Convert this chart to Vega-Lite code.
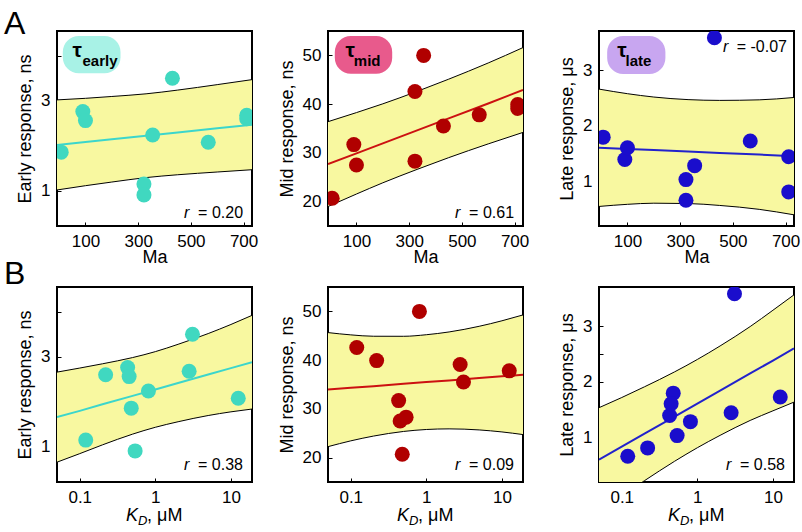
{
"$schema": "https://vega.github.io/schema/vega-lite/v6.json",
"padding": {"left": 3, "top": 6, "right": 0, "bottom": 0},
"background": "white",
"columns": 3,
"spacing": {"row": 61, "column": 76},
"bounds": "flush",
"datasets": {
"pts": [
{"Ma": 8, "KD": 0.48, "early": 1.86, "mid": 20.7, "late": 1.80},
{"Ma": 355, "KD": 0.81, "early": 2.24, "mid": 50.0, "late": 1.29},
{"Ma": 430, "KD": 3.1, "early": 3.50, "mid": 35.5, "late": 3.58},
{"Ma": 322, "KD": 0.12, "early": 1.15, "mid": 42.6, "late": 0.67},
{"Ma": 322, "KD": 0.54, "early": 0.91, "mid": 28.3, "late": 1.04},
{"Ma": 712, "KD": 0.22, "early": 2.60, "mid": 39.9, "late": 0.82},
{"Ma": 712, "KD": 2.8, "early": 2.68, "mid": 39.1, "late": 1.45},
{"Ma": 90, "KD": 0.43, "early": 2.76, "mid": 31.7, "late": 1.40},
{"Ma": 100, "KD": 0.45, "early": 2.56, "mid": 27.5, "late": 1.61},
{"Ma": 566, "KD": 12.5, "early": 2.08, "mid": 37.8, "late": 1.73}
],
"band": [
{"panel": "A1", "x": -8, "lo": 1.02, "hi": 3.02, "fit": 2.02},
{"panel": "A1", "x": 100, "lo": 1.115, "hi": 3.055, "fit": 2.085},
{"panel": "A1", "x": 200, "lo": 1.196, "hi": 3.096, "fit": 2.146},
{"panel": "A1", "x": 330, "lo": 1.295, "hi": 3.155, "fit": 2.225},
{"panel": "A1", "x": 450, "lo": 1.358, "hi": 3.238, "fit": 2.298},
{"panel": "A1", "x": 600, "lo": 1.419, "hi": 3.359, "fit": 2.389},
{"panel": "A1", "x": 732, "lo": 1.47, "hi": 3.47, "fit": 2.47},
{"panel": "A2", "x": -8, "lo": 19.0, "hi": 36.4, "fit": 27.7},
{"panel": "A2", "x": 100, "lo": 21.56, "hi": 38.26, "fit": 29.91},
{"panel": "A2", "x": 200, "lo": 23.86, "hi": 40.06, "fit": 31.96},
{"panel": "A2", "x": 330, "lo": 26.61, "hi": 42.61, "fit": 34.61},
{"panel": "A2", "x": 450, "lo": 29.02, "hi": 45.12, "fit": 37.07},
{"panel": "A2", "x": 600, "lo": 31.84, "hi": 48.44, "fit": 40.14},
{"panel": "A2", "x": 732, "lo": 34.2, "hi": 51.6, "fit": 42.9},
{"panel": "A3", "x": -8, "lo": 0.56, "hi": 2.66, "fit": 1.61},
{"panel": "A3", "x": 100, "lo": 0.598, "hi": 2.578, "fit": 1.588},
{"panel": "A3", "x": 200, "lo": 0.618, "hi": 2.518, "fit": 1.568},
{"panel": "A3", "x": 330, "lo": 0.612, "hi": 2.472, "fit": 1.542},
{"panel": "A3", "x": 450, "lo": 0.578, "hi": 2.458, "fit": 1.518},
{"panel": "A3", "x": 600, "lo": 0.508, "hi": 2.468, "fit": 1.488},
{"panel": "A3", "x": 732, "lo": 0.41, "hi": 2.51, "fit": 1.46},
{"panel": "B1", "x": 0.05, "lo": 0.66, "hi": 2.66, "fit": 1.66},
{"panel": "B1", "x": 0.1, "lo": 0.85, "hi": 2.75, "fit": 1.80},
{"panel": "B1", "x": 0.2, "lo": 1.045, "hi": 2.845, "fit": 1.945},
{"panel": "B1", "x": 0.5, "lo": 1.283, "hi": 2.983, "fit": 2.133},
{"panel": "B1", "x": 1, "lo": 1.435, "hi": 3.115, "fit": 2.275},
{"panel": "B1", "x": 2, "lo": 1.558, "hi": 3.278, "fit": 2.418},
{"panel": "B1", "x": 5, "lo": 1.696, "hi": 3.516, "fit": 2.606},
{"panel": "B1", "x": 10, "lo": 1.778, "hi": 3.718, "fit": 2.748},
{"panel": "B1", "x": 19, "lo": 1.84, "hi": 3.92, "fit": 2.88},
{"panel": "B2", "x": 0.05, "lo": 22.25, "hi": 45.65, "fit": 33.95},
{"panel": "B2", "x": 0.1, "lo": 23.44, "hi": 45.18, "fit": 34.31},
{"panel": "B2", "x": 0.2, "lo": 24.42, "hi": 44.90, "fit": 34.66},
{"panel": "B2", "x": 0.5, "lo": 25.37, "hi": 44.89, "fit": 35.13},
{"panel": "B2", "x": 1, "lo": 25.77, "hi": 45.21, "fit": 35.49},
{"panel": "B2", "x": 2, "lo": 25.90, "hi": 45.78, "fit": 35.84},
{"panel": "B2", "x": 5, "lo": 25.68, "hi": 46.94, "fit": 36.31},
{"panel": "B2", "x": 10, "lo": 25.27, "hi": 48.07, "fit": 36.67},
{"panel": "B2", "x": 19, "lo": 24.73, "hi": 49.27, "fit": 37.0},
{"panel": "B3", "x": 0.05, "lo": -0.32, "hi": 1.54, "fit": 0.61},
{"panel": "B3", "x": 0.1, "lo": -0.038, "hi": 1.722, "fit": 0.842},
{"panel": "B3", "x": 0.2, "lo": 0.234, "hi": 1.914, "fit": 1.074},
{"panel": "B3", "x": 0.5, "lo": 0.581, "hi": 2.181, "fit": 1.381},
{"panel": "B3", "x": 1, "lo": 0.823, "hi": 2.403, "fit": 1.613},
{"panel": "B3", "x": 2, "lo": 1.045, "hi": 2.645, "fit": 1.845},
{"panel": "B3", "x": 5, "lo": 1.312, "hi": 2.992, "fit": 2.152},
{"panel": "B3", "x": 10, "lo": 1.484, "hi": 3.284, "fit": 2.384},
{"panel": "B3", "x": 19, "lo": 1.64, "hi": 3.56, "fit": 2.60}
]
},
"concat": [
{
"width": 195, "height": 195,
"layer": [
{"data": {"name": "band"}, "transform": [{"filter": "datum.panel == 'A1'"}],
 "mark": {"type": "area", "color": "#f8f8a0", "opacity": 1, "clip": true, "interpolate": "monotone"},
 "encoding": {
  "x": {"field": "x", "type": "quantitative", "scale": {"domain": [-8, 732], "nice": false, "zero": false}, "axis": {"title": "Ma", "values": [100, 200, 300, 400, 500, 600, 700], "labelOverlap": false, "labelExpr": "datum.value % 200 == 100 ? datum.label : ''"}},
  "y": {"field": "lo", "type": "quantitative", "scale": {"domain": [0.22, 4.55], "nice": false, "zero": false}, "axis": {"title": "Early response, ns", "values": [1, 2, 3, 4], "labelOverlap": false, "labelExpr": "datum.value == 1 ? '1' : datum.value == 3 ? '3' : ''"}},
  "y2": {"field": "hi"}}},
{"data": {"name": "band"}, "transform": [{"filter": "datum.panel == 'A1'"}],
 "mark": {"type": "line", "color": "black", "strokeWidth": 1, "clip": true, "interpolate": "monotone"},
 "encoding": {"x": {"field": "x", "type": "quantitative"}, "y": {"field": "hi", "type": "quantitative"}}},
{"data": {"name": "band"}, "transform": [{"filter": "datum.panel == 'A1'"}],
 "mark": {"type": "line", "color": "black", "strokeWidth": 1, "clip": true, "interpolate": "monotone"},
 "encoding": {"x": {"field": "x", "type": "quantitative"}, "y": {"field": "lo", "type": "quantitative"}}},
{"data": {"name": "band"}, "transform": [{"filter": "datum.panel == 'A1'"}],
 "mark": {"type": "line", "color": "#3cd6cc", "strokeWidth": 2, "clip": true},
 "encoding": {"x": {"field": "x", "type": "quantitative"}, "y": {"field": "fit", "type": "quantitative"}}},
{"data": {"name": "pts"},
 "mark": {"type": "circle", "size": 225, "opacity": 1, "color": "#40d8c0", "clip": true},
 "encoding": {"x": {"field": "Ma", "type": "quantitative"}, "y": {"field": "early", "type": "quantitative"}}},
{"data": {"values": [{}]},
 "mark": {"type": "rect", "color": "#a8f2e6", "cornerRadius": 16},
 "encoding": {"x": {"datum": 14}, "x2": {"datum": 233}, "y": {"datum": 4.44}, "y2": {"datum": 3.61}}},
{"data": {"values": [{}]},
 "mark": {"type": "text", "text": "τ", "fontSize": 21, "fontWeight": "bold", "align": "left", "baseline": "alphabetic", "color": "black"},
 "encoding": {"x": {"datum": 50.8}, "y": {"datum": 3.973}}},
{"data": {"values": [{}]},
 "mark": {"type": "text", "text": "early", "fontSize": 15, "fontWeight": "bold", "align": "left", "baseline": "alphabetic", "color": "black"},
 "encoding": {"x": {"datum": 88.8}, "y": {"datum": 3.773}}},
{"data": {"values": [{}]},
 "mark": {"type": "text", "text": "r", "fontSize": 16, "fontStyle": "italic", "align": "left", "baseline": "alphabetic", "color": "black"},
 "encoding": {"x": {"datum": 474}, "y": {"datum": 0.40}}},
{"data": {"values": [{}]},
 "mark": {"type": "text", "text": "= 0.20", "fontSize": 16, "align": "right", "baseline": "alphabetic", "color": "black"},
 "encoding": {"x": {"datum": 698}, "y": {"datum": 0.40}}},
{"data": {"values": [{}]},
 "mark": {"type": "text", "text": "A", "fontSize": 32, "align": "left", "baseline": "alphabetic", "color": "black"},
 "encoding": {"x": {"datum": -209}, "y": {"datum": 4.49}}}
]
},
{
"width": 195, "height": 195,
"layer": [
{"data": {"name": "band"}, "transform": [{"filter": "datum.panel == 'A2'"}],
 "mark": {"type": "area", "color": "#f8f8a0", "opacity": 1, "clip": true, "interpolate": "monotone"},
 "encoding": {
  "x": {"field": "x", "type": "quantitative", "scale": {"domain": [-8, 732], "nice": false, "zero": false}, "axis": {"title": "Ma", "values": [100, 200, 300, 400, 500, 600, 700], "labelOverlap": false, "labelExpr": "datum.value % 200 == 100 ? datum.label : ''"}},
  "y": {"field": "lo", "type": "quantitative", "scale": {"domain": [15, 55], "nice": false, "zero": false}, "axis": {"title": "Mid response, ns", "values": [20, 25, 30, 35, 40, 45, 50], "labelOverlap": false, "labelExpr": "datum.value % 10 == 0 ? datum.label : ''"}},
  "y2": {"field": "hi"}}},
{"data": {"name": "band"}, "transform": [{"filter": "datum.panel == 'A2'"}],
 "mark": {"type": "line", "color": "black", "strokeWidth": 1, "clip": true, "interpolate": "monotone"},
 "encoding": {"x": {"field": "x", "type": "quantitative"}, "y": {"field": "hi", "type": "quantitative"}}},
{"data": {"name": "band"}, "transform": [{"filter": "datum.panel == 'A2'"}],
 "mark": {"type": "line", "color": "black", "strokeWidth": 1, "clip": true, "interpolate": "monotone"},
 "encoding": {"x": {"field": "x", "type": "quantitative"}, "y": {"field": "lo", "type": "quantitative"}}},
{"data": {"name": "band"}, "transform": [{"filter": "datum.panel == 'A2'"}],
 "mark": {"type": "line", "color": "#cc1111", "strokeWidth": 2, "clip": true},
 "encoding": {"x": {"field": "x", "type": "quantitative"}, "y": {"field": "fit", "type": "quantitative"}}},
{"data": {"name": "pts"},
 "mark": {"type": "circle", "size": 225, "opacity": 1, "color": "#b00000", "clip": true},
 "encoding": {"x": {"field": "Ma", "type": "quantitative"}, "y": {"field": "mid", "type": "quantitative"}}},
{"data": {"values": [{}]},
 "mark": {"type": "rect", "color": "#e85a8c", "cornerRadius": 16},
 "encoding": {"x": {"datum": 17.8}, "x2": {"datum": 235.6}, "y": {"datum": 53.97}, "y2": {"datum": 46.24}}},
{"data": {"values": [{}]},
 "mark": {"type": "text", "text": "τ", "fontSize": 21, "fontWeight": "bold", "align": "left", "baseline": "alphabetic", "color": "black"},
 "encoding": {"x": {"datum": 58.4}, "y": {"datum": 49.67}}},
{"data": {"values": [{}]},
 "mark": {"type": "text", "text": "mid", "fontSize": 15, "fontWeight": "bold", "align": "left", "baseline": "alphabetic", "color": "black"},
 "encoding": {"x": {"datum": 89.9}, "y": {"datum": 47.82}}},
{"data": {"values": [{}]},
 "mark": {"type": "text", "text": "r", "fontSize": 16, "fontStyle": "italic", "align": "left", "baseline": "alphabetic", "color": "black"},
 "encoding": {"x": {"datum": 474}, "y": {"datum": 16.64}}},
{"data": {"values": [{}]},
 "mark": {"type": "text", "text": "= 0.61", "fontSize": 16, "align": "right", "baseline": "alphabetic", "color": "black"},
 "encoding": {"x": {"datum": 698}, "y": {"datum": 16.64}}}
]
},
{
"width": 195, "height": 195,
"layer": [
{"data": {"name": "band"}, "transform": [{"filter": "datum.panel == 'A3'"}],
 "mark": {"type": "area", "color": "#f8f8a0", "opacity": 1, "clip": true, "interpolate": "monotone"},
 "encoding": {
  "x": {"field": "x", "type": "quantitative", "scale": {"domain": [-8, 732], "nice": false, "zero": false}, "axis": {"title": "Ma", "values": [100, 200, 300, 400, 500, 600, 700], "labelOverlap": false, "labelExpr": "datum.value % 200 == 100 ? datum.label : ''"}},
  "y": {"field": "lo", "type": "quantitative", "scale": {"domain": [0.21, 3.7], "nice": false, "zero": false}, "axis": {"title": "Late response, μs", "values": [1, 1.5, 2, 2.5, 3], "labelOverlap": false, "labelExpr": "datum.value == 1 ? '1' : datum.value == 2 ? '2' : datum.value == 3 ? '3' : ''"}},
  "y2": {"field": "hi"}}},
{"data": {"name": "band"}, "transform": [{"filter": "datum.panel == 'A3'"}],
 "mark": {"type": "line", "color": "black", "strokeWidth": 1, "clip": true, "interpolate": "monotone"},
 "encoding": {"x": {"field": "x", "type": "quantitative"}, "y": {"field": "hi", "type": "quantitative"}}},
{"data": {"name": "band"}, "transform": [{"filter": "datum.panel == 'A3'"}],
 "mark": {"type": "line", "color": "black", "strokeWidth": 1, "clip": true, "interpolate": "monotone"},
 "encoding": {"x": {"field": "x", "type": "quantitative"}, "y": {"field": "lo", "type": "quantitative"}}},
{"data": {"name": "band"}, "transform": [{"filter": "datum.panel == 'A3'"}],
 "mark": {"type": "line", "color": "#2222cc", "strokeWidth": 2, "clip": true},
 "encoding": {"x": {"field": "x", "type": "quantitative"}, "y": {"field": "fit", "type": "quantitative"}}},
{"data": {"name": "pts"},
 "mark": {"type": "circle", "size": 225, "opacity": 1, "color": "#1a0dcc", "clip": true},
 "encoding": {"x": {"field": "Ma", "type": "quantitative"}, "y": {"field": "late", "type": "quantitative"}}},
{"data": {"values": [{}]},
 "mark": {"type": "rect", "color": "#c8a6f0", "cornerRadius": 16},
 "encoding": {"x": {"datum": 23}, "x2": {"datum": 244}, "y": {"datum": 3.61}, "y2": {"datum": 2.93}}},
{"data": {"values": [{}]},
 "mark": {"type": "text", "text": "τ", "fontSize": 21, "fontWeight": "bold", "align": "left", "baseline": "alphabetic", "color": "black"},
 "encoding": {"x": {"datum": 61}, "y": {"datum": 3.235}}},
{"data": {"values": [{}]},
 "mark": {"type": "text", "text": "late", "fontSize": 15, "fontWeight": "bold", "align": "left", "baseline": "alphabetic", "color": "black"},
 "encoding": {"x": {"datum": 92.6}, "y": {"datum": 3.07}}},
{"data": {"values": [{}]},
 "mark": {"type": "text", "text": "r", "fontSize": 16, "fontStyle": "italic", "align": "left", "baseline": "alphabetic", "color": "black"},
 "encoding": {"x": {"datum": 462.6}, "y": {"datum": 3.324}}},
{"data": {"values": [{}]},
 "mark": {"type": "text", "text": "= -0.07", "fontSize": 16, "align": "right", "baseline": "alphabetic", "color": "black"},
 "encoding": {"x": {"datum": 705.4}, "y": {"datum": 3.324}}}
]
},
{
"width": 195, "height": 195,
"layer": [
{"data": {"name": "band"}, "transform": [{"filter": "datum.panel == 'B1'"}],
 "mark": {"type": "area", "color": "#f8f8a0", "opacity": 1, "clip": true, "interpolate": "monotone"},
 "encoding": {
  "x": {"field": "x", "type": "quantitative", "scale": {"type": "log", "domain": [0.05, 19], "nice": false}, "axis": {"title": null, "values": [0.1, 1, 10], "format": "~g", "labelOverlap": false}},
  "y": {"field": "lo", "type": "quantitative", "scale": {"domain": [0.22, 4.55], "nice": false, "zero": false}, "axis": {"title": "Early response, ns", "values": [1, 2, 3, 4], "labelOverlap": false, "labelExpr": "datum.value == 1 ? '1' : datum.value == 3 ? '3' : ''"}},
  "y2": {"field": "hi"}}},
{"data": {"name": "band"}, "transform": [{"filter": "datum.panel == 'B1'"}],
 "mark": {"type": "line", "color": "black", "strokeWidth": 1, "clip": true, "interpolate": "monotone"},
 "encoding": {"x": {"field": "x", "type": "quantitative"}, "y": {"field": "hi", "type": "quantitative"}}},
{"data": {"name": "band"}, "transform": [{"filter": "datum.panel == 'B1'"}],
 "mark": {"type": "line", "color": "black", "strokeWidth": 1, "clip": true, "interpolate": "monotone"},
 "encoding": {"x": {"field": "x", "type": "quantitative"}, "y": {"field": "lo", "type": "quantitative"}}},
{"data": {"name": "band"}, "transform": [{"filter": "datum.panel == 'B1'"}],
 "mark": {"type": "line", "color": "#3cd6cc", "strokeWidth": 2, "clip": true},
 "encoding": {"x": {"field": "x", "type": "quantitative"}, "y": {"field": "fit", "type": "quantitative"}}},
{"data": {"name": "pts"},
 "mark": {"type": "circle", "size": 225, "opacity": 1, "color": "#40d8c0", "clip": true},
 "encoding": {"x": {"field": "KD", "type": "quantitative"}, "y": {"field": "early", "type": "quantitative"}}},
{"data": {"values": [{}]},
 "mark": {"type": "text", "text": "r", "fontSize": 16, "fontStyle": "italic", "align": "left", "baseline": "alphabetic", "color": "black"},
 "encoding": {"x": {"datum": 2.39}, "y": {"datum": 0.486}}},
{"data": {"values": [{}]},
 "mark": {"type": "text", "text": "= 0.38", "fontSize": 16, "align": "right", "baseline": "alphabetic", "color": "black"},
 "encoding": {"x": {"datum": 14.44}, "y": {"datum": 0.486}}},
{"data": {"values": [{}]},
 "mark": {"type": "text", "text": "B", "fontSize": 32, "align": "left", "baseline": "alphabetic", "color": "black"},
 "encoding": {"x": {"datum": 0.00995}, "y": {"datum": 4.617}}},
{"data": {"values": [{}]},
 "mark": {"type": "text", "text": "K", "fontSize": 18, "fontStyle": "italic", "align": "left", "baseline": "alphabetic", "color": "black"},
 "encoding": {"x": {"datum": 0.409}, "y": {"datum": -0.646}}},
{"data": {"values": [{}]},
 "mark": {"type": "text", "text": "D", "fontSize": 13, "fontStyle": "italic", "align": "left", "baseline": "alphabetic", "color": "black"},
 "encoding": {"x": {"datum": 0.5896}, "y": {"datum": -0.735}}},
{"data": {"values": [{}]},
 "mark": {"type": "text", "text": ", μM", "fontSize": 18, "align": "left", "baseline": "alphabetic", "color": "black"},
 "encoding": {"x": {"datum": 0.7757}, "y": {"datum": -0.646}}}
]
},
{
"width": 195, "height": 195,
"layer": [
{"data": {"name": "band"}, "transform": [{"filter": "datum.panel == 'B2'"}],
 "mark": {"type": "area", "color": "#f8f8a0", "opacity": 1, "clip": true, "interpolate": "monotone"},
 "encoding": {
  "x": {"field": "x", "type": "quantitative", "scale": {"type": "log", "domain": [0.05, 19], "nice": false}, "axis": {"title": null, "values": [0.1, 1, 10], "format": "~g", "labelOverlap": false}},
  "y": {"field": "lo", "type": "quantitative", "scale": {"domain": [15, 55], "nice": false, "zero": false}, "axis": {"title": "Mid response, ns", "values": [20, 25, 30, 35, 40, 45, 50], "labelOverlap": false, "labelExpr": "datum.value % 10 == 0 ? datum.label : ''"}},
  "y2": {"field": "hi"}}},
{"data": {"name": "band"}, "transform": [{"filter": "datum.panel == 'B2'"}],
 "mark": {"type": "line", "color": "black", "strokeWidth": 1, "clip": true, "interpolate": "monotone"},
 "encoding": {"x": {"field": "x", "type": "quantitative"}, "y": {"field": "hi", "type": "quantitative"}}},
{"data": {"name": "band"}, "transform": [{"filter": "datum.panel == 'B2'"}],
 "mark": {"type": "line", "color": "black", "strokeWidth": 1, "clip": true, "interpolate": "monotone"},
 "encoding": {"x": {"field": "x", "type": "quantitative"}, "y": {"field": "lo", "type": "quantitative"}}},
{"data": {"name": "band"}, "transform": [{"filter": "datum.panel == 'B2'"}],
 "mark": {"type": "line", "color": "#cc1111", "strokeWidth": 2, "clip": true},
 "encoding": {"x": {"field": "x", "type": "quantitative"}, "y": {"field": "fit", "type": "quantitative"}}},
{"data": {"name": "pts"},
 "mark": {"type": "circle", "size": 225, "opacity": 1, "color": "#b00000", "clip": true},
 "encoding": {"x": {"field": "KD", "type": "quantitative"}, "y": {"field": "mid", "type": "quantitative"}}},
{"data": {"values": [{}]},
 "mark": {"type": "text", "text": "r", "fontSize": 16, "fontStyle": "italic", "align": "left", "baseline": "alphabetic", "color": "black"},
 "encoding": {"x": {"datum": 2.39}, "y": {"datum": 17.46}}},
{"data": {"values": [{}]},
 "mark": {"type": "text", "text": "= 0.09", "fontSize": 16, "align": "right", "baseline": "alphabetic", "color": "black"},
 "encoding": {"x": {"datum": 14.44}, "y": {"datum": 17.46}}},
{"data": {"values": [{}]},
 "mark": {"type": "text", "text": "K", "fontSize": 18, "fontStyle": "italic", "align": "left", "baseline": "alphabetic", "color": "black"},
 "encoding": {"x": {"datum": 0.409}, "y": {"datum": 7.0}}},
{"data": {"values": [{}]},
 "mark": {"type": "text", "text": "D", "fontSize": 13, "fontStyle": "italic", "align": "left", "baseline": "alphabetic", "color": "black"},
 "encoding": {"x": {"datum": 0.5896}, "y": {"datum": 6.18}}},
{"data": {"values": [{}]},
 "mark": {"type": "text", "text": ", μM", "fontSize": 18, "align": "left", "baseline": "alphabetic", "color": "black"},
 "encoding": {"x": {"datum": 0.7757}, "y": {"datum": 7.0}}}
]
},
{
"width": 195, "height": 195,
"layer": [
{"data": {"name": "band"}, "transform": [{"filter": "datum.panel == 'B3'"}],
 "mark": {"type": "area", "color": "#f8f8a0", "opacity": 1, "clip": true, "interpolate": "monotone"},
 "encoding": {
  "x": {"field": "x", "type": "quantitative", "scale": {"type": "log", "domain": [0.05, 19], "nice": false}, "axis": {"title": null, "values": [0.1, 1, 10], "format": "~g", "labelOverlap": false}},
  "y": {"field": "lo", "type": "quantitative", "scale": {"domain": [0.21, 3.7], "nice": false, "zero": false}, "axis": {"title": "Late response, μs", "values": [1, 1.5, 2, 2.5, 3], "labelOverlap": false, "labelExpr": "datum.value == 1 ? '1' : datum.value == 2 ? '2' : datum.value == 3 ? '3' : ''"}},
  "y2": {"field": "hi"}}},
{"data": {"name": "band"}, "transform": [{"filter": "datum.panel == 'B3'"}],
 "mark": {"type": "line", "color": "black", "strokeWidth": 1, "clip": true, "interpolate": "monotone"},
 "encoding": {"x": {"field": "x", "type": "quantitative"}, "y": {"field": "hi", "type": "quantitative"}}},
{"data": {"name": "band"}, "transform": [{"filter": "datum.panel == 'B3'"}],
 "mark": {"type": "line", "color": "black", "strokeWidth": 1, "clip": true, "interpolate": "monotone"},
 "encoding": {"x": {"field": "x", "type": "quantitative"}, "y": {"field": "lo", "type": "quantitative"}}},
{"data": {"name": "band"}, "transform": [{"filter": "datum.panel == 'B3'"}],
 "mark": {"type": "line", "color": "#2222cc", "strokeWidth": 2, "clip": true},
 "encoding": {"x": {"field": "x", "type": "quantitative"}, "y": {"field": "fit", "type": "quantitative"}}},
{"data": {"name": "pts"},
 "mark": {"type": "circle", "size": 225, "opacity": 1, "color": "#1a0dcc", "clip": true},
 "encoding": {"x": {"field": "KD", "type": "quantitative"}, "y": {"field": "late", "type": "quantitative"}}},
{"data": {"values": [{}]},
 "mark": {"type": "text", "text": "r", "fontSize": 16, "fontStyle": "italic", "align": "left", "baseline": "alphabetic", "color": "black"},
 "encoding": {"x": {"datum": 2.39}, "y": {"datum": 0.425}}},
{"data": {"values": [{}]},
 "mark": {"type": "text", "text": "= 0.58", "fontSize": 16, "align": "right", "baseline": "alphabetic", "color": "black"},
 "encoding": {"x": {"datum": 14.44}, "y": {"datum": 0.425}}},
{"data": {"values": [{}]},
 "mark": {"type": "text", "text": "K", "fontSize": 18, "fontStyle": "italic", "align": "left", "baseline": "alphabetic", "color": "black"},
 "encoding": {"x": {"datum": 0.409}, "y": {"datum": -0.488}}},
{"data": {"values": [{}]},
 "mark": {"type": "text", "text": "D", "fontSize": 13, "fontStyle": "italic", "align": "left", "baseline": "alphabetic", "color": "black"},
 "encoding": {"x": {"datum": 0.5896}, "y": {"datum": -0.56}}},
{"data": {"values": [{}]},
 "mark": {"type": "text", "text": ", μM", "fontSize": 18, "align": "left", "baseline": "alphabetic", "color": "black"},
 "encoding": {"x": {"datum": 0.7757}, "y": {"datum": -0.488}}}
]
}
],
"config": {
"font": "Liberation Sans",
"view": {"stroke": "black", "strokeWidth": 2},
"axis": {"domain": false, "grid": false, "tickColor": "black", "tickSize": -4, "tickWidth": 1, "labelFontSize": 17, "titleFontSize": 18, "labelColor": "black", "titleColor": "black", "titleFontWeight": "normal", "labelPadding": 11, "titlePadding": 6, "labelFlush": false, "labelOverlap": false, "labelFont": "Liberation Sans", "titleFont": "Liberation Sans"},
"axisX": {"titlePadding": -1}
}
}
